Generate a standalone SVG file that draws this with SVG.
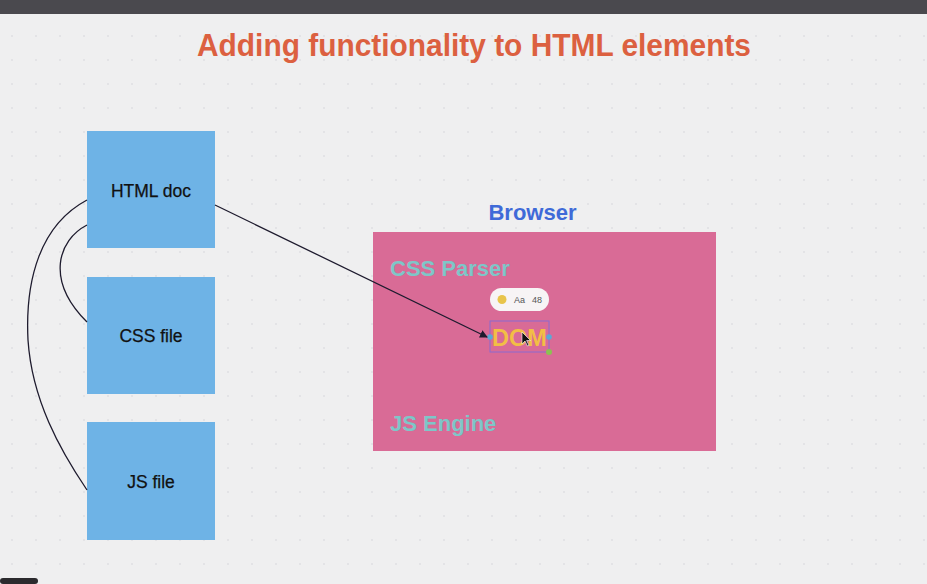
<svg xmlns="http://www.w3.org/2000/svg" width="927" height="584" viewBox="0 0 927 584">
<defs>
<pattern id="dots" width="24" height="24" patternUnits="userSpaceOnUse"><circle cx="12" cy="12" r="0.8" fill="#d4d4d8"/></pattern>
<marker id="ah" markerWidth="8" markerHeight="8" refX="7" refY="4" orient="auto" markerUnits="userSpaceOnUse"><path d="M0,0 L8,4 L0,8 z" fill="#1e1b2e"/></marker>
<style>
.box{fill:#6eb3e6}
.lbl{font-family:"Liberation Sans",Arial,sans-serif;font-size:17.5px;fill:#111;text-anchor:middle;stroke:#111;stroke-width:0.25}
.sec{font-family:"Liberation Sans",Arial,sans-serif;font-size:22px;font-weight:bold;fill:#7ec6c8}
.conn{fill:none;stroke:#1e1b2e;stroke-width:1.3}
</style>
</defs>
<rect width="927" height="584" fill="#efeff0"/>
<rect width="927" height="584" fill="url(#dots)"/>
<rect x="0" y="0" width="927" height="14" fill="#4a494e"/>
<rect x="0" y="578" width="38" height="6" rx="3" fill="#2b2a2e"/>
<text x="474" y="56" text-anchor="middle" font-family="'Liberation Sans',Arial,sans-serif" font-size="31" font-weight="bold" fill="#dc6040" textLength="554" lengthAdjust="spacingAndGlyphs">Adding functionality to HTML elements</text>
<g id="html-doc"><rect class="box" x="87" y="131" width="128" height="117"/><text class="lbl" x="151" y="197">HTML doc</text></g>
<g id="css-file"><rect class="box" x="87" y="277" width="128" height="117"/><text class="lbl" x="151" y="342">CSS file</text></g>
<g id="js-file"><rect class="box" x="87" y="422" width="128" height="118"/><text class="lbl" x="151" y="488">JS file</text></g>
<g id="browser">
<text x="532.5" y="220" text-anchor="middle" font-family="'Liberation Sans',Arial,sans-serif" font-size="22" font-weight="bold" fill="#3f6ad8">Browser</text>
<rect x="373" y="232" width="343" height="219" fill="#d96b96"/>
<text class="sec" x="390" y="276">CSS Parser</text>
<text class="sec" x="390" y="431">JS Engine</text>
</g>
<g id="dom">
<rect x="490" y="288" width="59" height="23" rx="11.5" fill="#f7f4f5"/>
<circle cx="502" cy="299.5" r="4.5" fill="#e8c44a"/>
<text x="514" y="303" font-family="'Liberation Sans',Arial,sans-serif" font-size="9" fill="#555">Aa</text>
<text x="532" y="303" font-family="'Liberation Sans',Arial,sans-serif" font-size="9" fill="#555">48</text>
<rect x="490" y="321" width="59" height="31" fill="none" stroke="#8a6bd0" stroke-width="1"/>
<text x="519.5" y="346" text-anchor="middle" font-family="'Liberation Sans',Arial,sans-serif" font-size="23.5" font-weight="bold" fill="#f2be45">DOM</text>
<circle cx="490" cy="337" r="2.8" fill="#5aa9d6"/>
<circle cx="549" cy="337" r="2.8" fill="#5aa9d6"/>
<circle cx="549" cy="352" r="3" fill="#8cc152"/>
<path d="M522,332 L522,344 L525,341 L527.5,346 L529,345.3 L526.6,340.5 L530.5,340.5 z" fill="#111" stroke="#fff" stroke-width="0.6"/>
</g>
<g id="connectors">
<path class="conn" d="M215,205 L487,337" marker-end="url(#ah)"/>
<path class="conn" d="M87,200 C40,225 25,280 28,340 C32,400 60,450 87,490"/>
<path class="conn" d="M87,225 C58,240 45,280 87,322"/>
</g>
</svg>
